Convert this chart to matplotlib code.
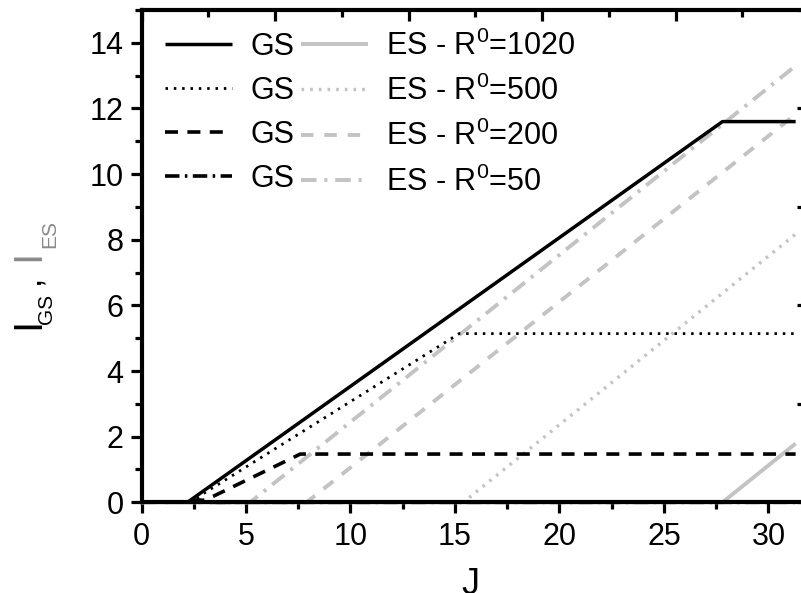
import matplotlib
matplotlib.use("Agg")
import matplotlib.pyplot as plt
from matplotlib.ticker import MultipleLocator, NullFormatter

plt.rcParams["font.family"] = ["Liberation Sans", "DejaVu Sans"]
plt.rcParams["mathtext.fontset"] = "custom"
plt.rcParams["mathtext.rm"] = "Liberation Sans"
plt.rcParams["mathtext.it"] = "Liberation Sans:italic"

# Ground-state (GS) and excited-state (ES) output vs. pump J, for four R0 values
R0_values = [1020, 500, 200, 50]

J_GS_1020 = [2.2, 27.8, 31.3]
I_GS_1020 = [0.0, 11.6, 11.6]
J_ES_1020 = [0.0, 27.8, 31.3]
I_ES_1020 = [0.0, 0.0, 1.79]

J_GS_500 = [2.3, 15.2, 31.3]
I_GS_500 = [0.0, 5.14, 5.14]
J_ES_500 = [0.0, 15.4, 31.3]
I_ES_500 = [0.0, 0.0, 8.17]

J_GS_200 = [2.4, 3.1, 7.6, 31.3]
I_GS_200 = [0.0, 0.08, 1.47, 1.47]
J_ES_200 = [0.0, 7.9, 31.3]
I_ES_200 = [0.0, 0.0, 11.82]

J_GS_50 = [2.3, 2.7, 3.3, 31.3]
I_GS_50 = [0.0, 0.08, 0.0, 0.0]
J_ES_50 = [0.0, 5.2, 31.3]
I_ES_50 = [0.0, 0.0, 13.3]

gs_series = [(J_GS_1020, I_GS_1020), (J_GS_500, I_GS_500),
             (J_GS_200, I_GS_200), (J_GS_50, I_GS_50)]
es_series = [(J_ES_1020, I_ES_1020), (J_ES_500, I_ES_500),
             (J_ES_200, I_ES_200), (J_ES_50, I_ES_50)]

GS_COLOR = "black"
ES_COLOR = "#c3c3c3"
LABEL_GREY = "#8a8a8a"

gs_styles = [("-", 2.5), ((0, (0.9, 2.1)), 2.0), ((0, (3.6, 2.6)), 2.6),
             ((0, (4.0, 1.5, 0.7, 1.5)), 2.6)]
es_styles = [("-", 2.8), ((0, (0.8, 1.8)), 2.4), ((0, (3.2, 2.8)), 2.8),
             ((0, (4.0, 2.0, 0.8, 2.0)), 2.8)]

W, H = 801, 593
fig = plt.figure(figsize=(W / 100, H / 100), dpi=100)
ax = fig.add_axes([141.5 / W, 90.7 / H, 662.5 / W, 492.3 / H])

gs_handles, es_handles = [], []
for (j, i), (ls, lw) in zip(es_series, es_styles):
    (h,) = ax.plot(j, i, color=ES_COLOR, ls=ls, lw=lw, zorder=2,
                   clip_on=False, dash_capstyle="butt", solid_capstyle="butt")
    es_handles.append(h)
for (j, i), (ls, lw) in zip(gs_series, gs_styles):
    (h,) = ax.plot(j, i, color=GS_COLOR, ls=ls, lw=lw, zorder=3,
                   clip_on=False, dash_capstyle="butt", solid_capstyle="butt")
    gs_handles.append(h)

ax.set_xlim(0, 31.7)
ax.set_ylim(0, 15)

ax.xaxis.set_major_locator(MultipleLocator(5))
ax.xaxis.set_minor_locator(MultipleLocator(2.5))
ax.yaxis.set_major_locator(MultipleLocator(2))
ax.yaxis.set_minor_locator(MultipleLocator(1))
ax.tick_params(which="both", direction="out", top=False, right=False,
               width=2.3, labelsize=22, color="black")
ax.tick_params(which="major", length=8)
ax.tick_params(which="minor", length=4.7)
ax.tick_params(axis="x", which="major", pad=6)
ax.tick_params(axis="y", which="major", pad=5)
for sp in ax.spines.values():
    sp.set_linewidth(3)

# secondary scale ticks along the top edge
TOP_MAJOR_STEP = 6.39
axt = ax.twiny()
axt.set_xlim(ax.get_xlim())
axt.xaxis.set_major_locator(MultipleLocator(TOP_MAJOR_STEP))
axt.xaxis.set_minor_locator(MultipleLocator(TOP_MAJOR_STEP / 2))
axt.xaxis.set_major_formatter(NullFormatter())
axt.tick_params(which="both", direction="in", width=2.3)
axt.tick_params(which="major", length=8)
axt.tick_params(which="minor", length=4.7)
for sp in axt.spines.values():
    sp.set_visible(False)

# ticks along the right edge
axr = ax.twinx()
axr.set_ylim(ax.get_ylim())
axr.yaxis.set_major_locator(MultipleLocator(3))
axr.yaxis.set_major_formatter(NullFormatter())
axr.tick_params(which="both", direction="in", width=2.3, length=5)
for sp in axr.spines.values():
    sp.set_visible(False)

labels = ["GS"] * 4 + [r"ES - R$^{0}$=%d" % r for r in R0_values]
leg = ax.legend(gs_handles + es_handles, labels, ncol=2, frameon=False,
                loc="upper left", bbox_to_anchor=(0.0355, 0.9584),
                borderaxespad=0, borderpad=0, fontsize=22,
                handlelength=2.2, handletextpad=0.6, columnspacing=0.2,
                labelspacing=0.46)
leg.set_zorder(5)


def fig_text(x_px, y_px, s, **kw):
    fig.text(x_px / W, 1 - y_px / H, s, **kw)


# y-axis title: I_GS (black), I_ES (grey)
rot = dict(rotation=90, rotation_mode="anchor", ha="center", va="baseline")
fig_text(39.5, 323, "I", fontsize=29, color="black", **rot)
fig_text(52.5, 309, "GS", fontsize=15, color="black", **rot)
fig_text(38.5, 279, ",", fontsize=24, color="black", **rot)
fig_text(39.5, 255, "I", fontsize=29, color=LABEL_GREY, **rot)
fig_text(55.0, 234, "ES", fontsize=15, color=LABEL_GREY, **rot)

# x-axis title
fig_text(470.5, 594, "J", fontsize=26, ha="center", va="baseline")

fig.savefig("out.png", dpi=100)
